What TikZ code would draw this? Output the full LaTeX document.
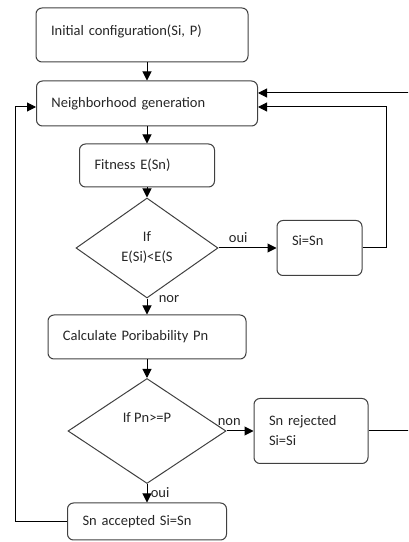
\documentclass[tikz,border=0pt]{standalone}
\usepackage{fontspec}
\setmainfont{Carlito}
\usetikzlibrary{arrows.meta,shapes.geometric}
\tikzset{%
  >={Triangle[width=9pt,length=9pt]},
  % Specifications for style of nodes:
  base/.style = {
    draw=black!75,
    line width=1pt,
  },
  proc/.style = {base, rectangle, rounded corners=6pt,
                 align=left, inner xsep=15pt},
  decision/.style = {base, diamond, align=center, inner sep=0pt},
}

\begin{document}
\begin{tikzpicture}[
  x=1pt, y=1pt,
  line width=1pt,
  font=\fontsize{14.5}{20}\selectfont,
  every node/.style={text=black!85},]
  \useasboundingbox (0,0) rectangle (408,542);
  \clip (0,0) rectangle (408,542);
  % nodes
  \node (init) [proc, text width=182pt, minimum height=54pt, text depth=9.5pt]
  at (142,507) {Initial configuration(Si, P)};
  \node (neigh) [proc, text width=191pt, minimum height=45pt,
    node distance=68.5pt, below of=init, xshift=5pt] {Neighborhood generation};
  \node (fit) [proc, text width=105pt, minimum height=43pt,
    node distance=62pt, below of=neigh] {Fitness E(Sn)};
  \node (d1) [decision, aspect=1.42, minimum width=142pt, minimum height=100pt,
    node distance=82.5pt, below of=fit] {If\\E(Si)<E(S};
  \node (sisn) [proc, text width=55pt, minimum height=55pt, text depth=15pt,
    node distance=172.5pt, right of=d1] {Si=Sn};
  \node (calc) [proc, text width=168pt, minimum height=44pt,
    node distance=89pt, below of=d1] {Calculate Poribability Pn};
  \node (d2) [decision, aspect=1.5, minimum width=158pt, minimum height=105pt,
    node distance=94pt, below of=calc] {If Pn>=P\\ \strut};
  \node (rej) [proc, text width=84pt, minimum height=65pt,
    node distance=164pt, right of=d2] {Sn rejected\\Si=Si};
  \node (acc) [proc, text width=129pt, minimum height=37pt,
    node distance=90.5pt, below of=d2] {Sn accepted Si=Sn};
  % lines
  \draw[->] (init.south -| neigh) -- (neigh);
  \draw[->] (neigh) -- (fit);
  \draw[->] (fit) -- (d1);
  \draw[->] (d1) -- node[pos=0.34, above, yshift=2pt]{oui} (sisn);
  \draw[->] (d1) -- node[pos=0.02, right, xshift=8pt]{nor} (calc);
  \draw[->] (calc) -- (d2);
  \draw[->] (d2) -- node[pos=0.1, above, yshift=2pt]{non} (rej);
  \draw[->] (d2) -- node[pos=0.45, right]{oui} (acc);
  % loops back to the neighborhood
  \draw[->] (sisn.east) -- ++(24pt,0) |- ([yshift=-3.5pt]neigh.east);
  \draw[->] (rej.east) -- ++(50pt,0) |- ([yshift=10.5pt]neigh.east);
  \draw[->] (acc.west) -- ++(-52pt,0) |- ([yshift=-3.5pt]neigh.west);
\end{tikzpicture}
\end{document}
